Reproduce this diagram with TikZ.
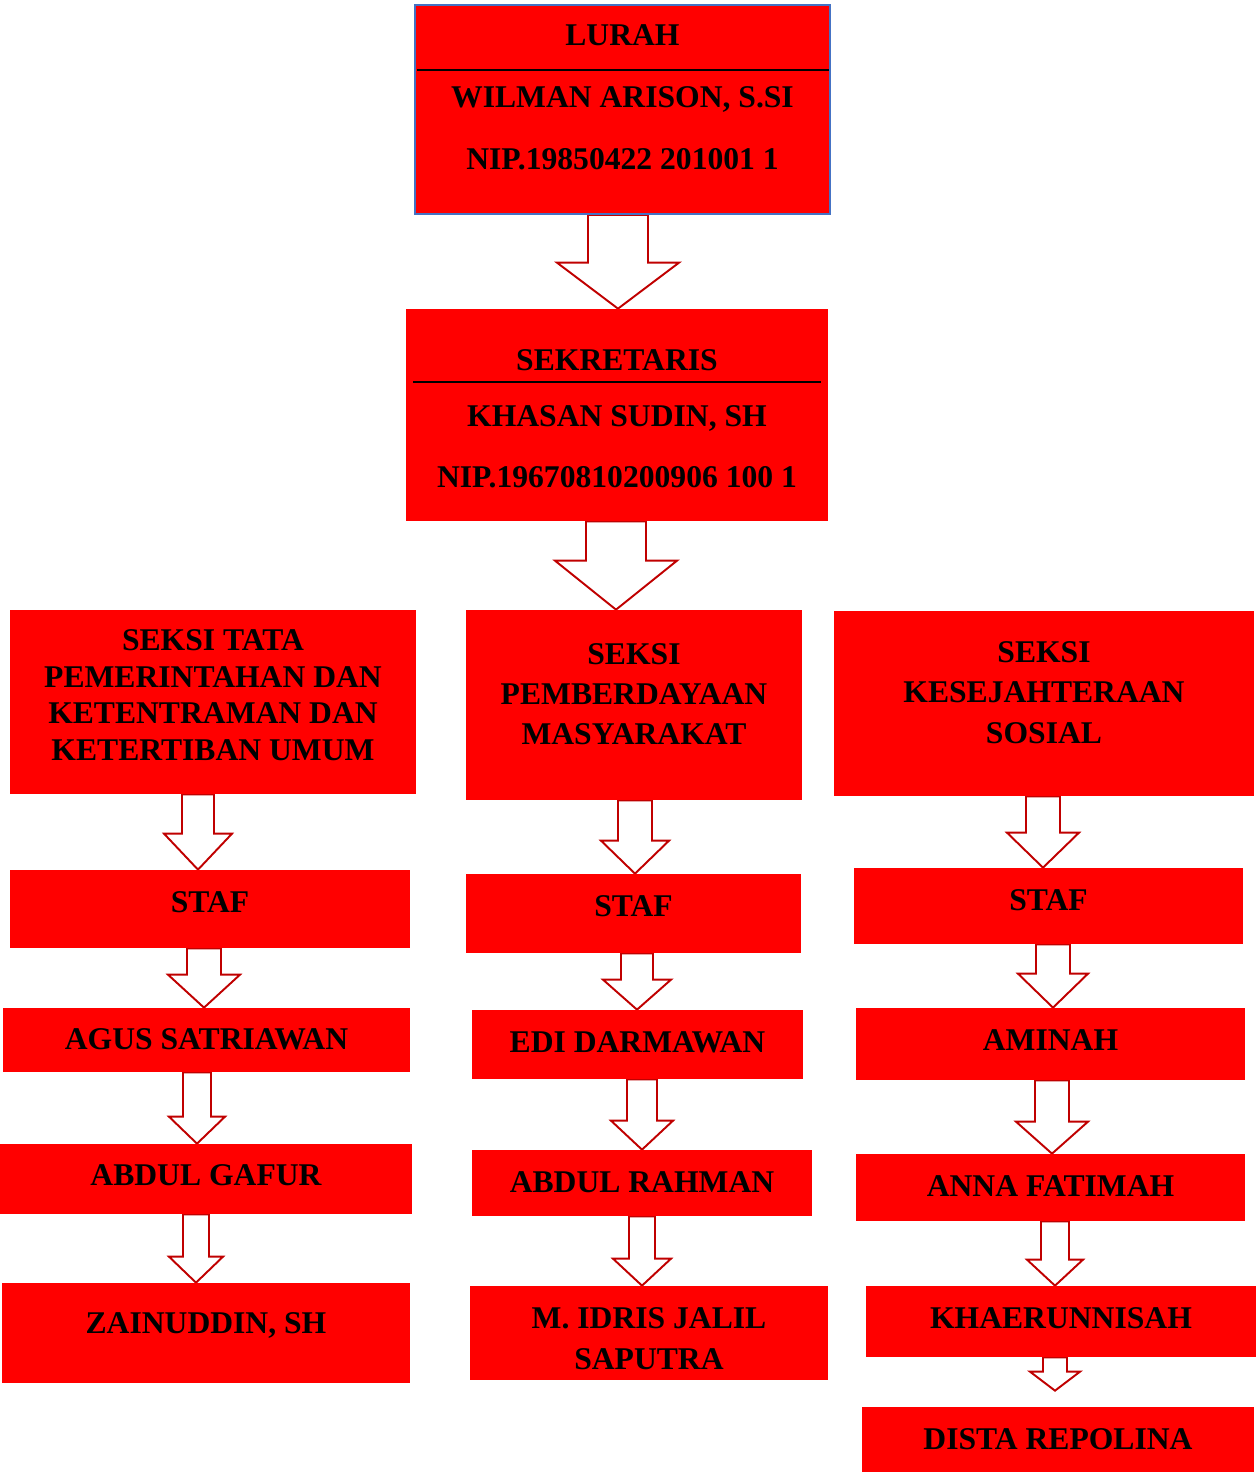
\documentclass[tikz,border=0pt]{standalone}
\usepackage{fontspec}
\setmainfont{Liberation Serif}
\usetikzlibrary{calc, fit, backgrounds}
\definecolor{boxred}{RGB}{255,0,0}
\definecolor{arrowred}{RGB}{192,0,0}
\definecolor{borderblue}{RGB}{68,114,196}

% hollow block arrow: [gap]{from}{to}{x}{shaft half width}{head half width}{head length}
\newcommand{\blockarr}[7][0]{%
    \coordinate (arr-top) at (#4,0 |- #2.south);
    \coordinate (arr-tip) at ($(#4,0 |- #3.north)+(0,-#1)$);
    \draw[blockarrow] ($(arr-top)+(-#5,0)$) -- ($(arr-tip)+(-#5,-#7)$) -- ($(arr-tip)+(-#6,-#7)$) -- (arr-tip)
        -- ($(arr-tip)+(#6,-#7)$) -- ($(arr-tip)+(#5,-#7)$) -- ($(arr-top)+(#5,0)$) -- cycle;
}

\begin{document}
\begin{tikzpicture}[x=0.02cm, y=-0.02cm]
    % Styles for the boxes, their texts and the hollow arrows
    \tikzstyle{box} = [fill=boxred, inner sep=0pt]
    \tikzstyle{lbl} = [font=\bfseries\fontsize{18}{23}\selectfont, align=center, inner sep=0pt, text depth=0pt]
    \tikzstyle{blockarrow} = [draw=arrowred, fill=white, line width=1.1pt, line join=miter]
    \tikzstyle{sepline} = [draw=black, line width=0.7pt]

    \useasboundingbox (0,0) rectangle (1256,1472);

    % Lurah
    \node[box, draw=borderblue, line width=1.1pt, fit={(415,5) (830,214)}] (lurah) {};
    \draw[sepline] (417,70) -- (829,70);
    \node[lbl] (lurah-t1) at (lurah.center |- 0,35) {LURAH};
    \node[lbl] (lurah-t2) at (lurah.center |- 0,97) {WILMAN ARISON, S.SI};
    \node[lbl] (lurah-t3) at (lurah.center |- 0,159) {NIP.19850422 201001 1};

    % Sekretaris
    \node[box, fit={(406,309) (828,521)}] (sekre) {};
    \draw[sepline] (413,382) -- (821,382);
    \node[lbl] (sekre-t1) at (sekre.center |- 0,360) {SEKRETARIS};
    \node[lbl] (sekre-t2) at (sekre.center |- 0,416) {KHASAN SUDIN, SH};
    \node[lbl] (sekre-t3) at (sekre.center |- 0,477) {NIP.19670810200906 100 1};

    % Seksi
    \node[box, fit={(10,610) (416,794)}] (seksiA) {};
    \node[lbl, font=\bfseries\fontsize{18}{20.8}\selectfont] (seksiA-t) at (seksiA.center |- 0,695)
        {SEKSI TATA\\PEMERINTAHAN DAN\\KETENTRAMAN DAN\\KETERTIBAN UMUM};
    \node[box, fit={(466,610) (802,800)}] (seksiB) {};
    \node[lbl, font=\bfseries\fontsize{18}{22.8}\selectfont] (seksiB-t) at (seksiB.center |- 0,694)
        {SEKSI\\PEMBERDAYAAN\\MASYARAKAT};
    \node[box, fit={(834,611) (1254,796)}] (seksiC) {};
    \node[lbl] (seksiC-t) at (seksiC.center |- 0,692.5) {SEKSI\\KESEJAHTERAAN\\SOSIAL};

    % Left column
    \node[box, fit={(10,870) (410,948)}] (stafA) {};
    \node[lbl] (stafA-t) at (stafA.center |- 0,902) {STAF};
    \node[box, fit={(3,1008) (410,1072)}] (agus) {};
    \node[lbl] (agus-t) at (agus.center |- 0,1039) {AGUS SATRIAWAN};
    \node[box, fit={(0,1144) (412,1214)}] (gafur) {};
    \node[lbl] (gafur-t) at (gafur.center |- 0,1175) {ABDUL GAFUR};
    \node[box, fit={(2,1283) (410,1383)}] (zain) {};
    \node[lbl] (zain-t) at (zain.center |- 0,1323) {ZAINUDDIN, SH};

    % Middle column
    \node[box, fit={(466,874) (801,953)}] (stafB) {};
    \node[lbl] (stafB-t) at (stafB.center |- 0,906) {STAF};
    \node[box, fit={(472,1010) (803,1079)}] (edi) {};
    \node[lbl] (edi-t) at (edi.center |- 0,1042) {EDI DARMAWAN};
    \node[box, fit={(472,1150) (812,1216)}] (rahman) {};
    \node[lbl] (rahman-t) at (rahman.center |- 0,1182) {ABDUL RAHMAN};
    \node[box, fit={(470,1286) (828,1380)}] (idris) {};
    \node[lbl] (idris-t) at (idris.center |- 0,1338.5) {M. IDRIS JALIL\\SAPUTRA};

    % Right column
    \node[box, fit={(854,868) (1243,944)}] (stafC) {};
    \node[lbl] (stafC-t) at (stafC.center |- 0,900) {STAF};
    \node[box, fit={(856,1008) (1245,1080)}] (aminah) {};
    \node[lbl] (aminah-t) at (aminah.center |- 0,1040) {AMINAH};
    \node[box, fit={(856,1154) (1245,1221)}] (anna) {};
    \node[lbl] (anna-t) at (anna.center |- 0,1186) {ANNA FATIMAH};
    \node[box, fit={(866,1286) (1256,1357)}] (khaer) {};
    \node[lbl] (khaer-t) at (khaer.center |- 0,1318) {KHAERUNNISAH};
    \node[box, fit={(862,1407) (1254,1472)}] (dista) {};
    \node[lbl] (dista-t) at (dista.center |- 0,1439) {DISTA REPOLINA};

    % Arrows behind the boxes
    \begin{scope}[on background layer]
        \blockarr{lurah}{sekre}{618}{30}{61}{46}
        \blockarr{sekre}{seksiB}{616}{30}{61}{49}
        \blockarr{seksiA}{stafA}{198}{16}{34}{36}
        \blockarr{stafA}{agus}{204}{17}{36}{33}
        \blockarr{agus}{gafur}{197}{14}{28}{27}
        \blockarr{gafur}{zain}{196}{13}{27}{26}
        \blockarr{seksiB}{stafB}{635}{17}{34}{33}
        \blockarr{stafB}{edi}{637}{16}{34}{30}
        \blockarr{edi}{rahman}{642}{15}{31}{29}
        \blockarr{rahman}{idris}{642}{13}{29}{27}
        \blockarr{seksiC}{stafC}{1043}{17}{36}{35}
        \blockarr{stafC}{aminah}{1053}{17}{35}{34}
        \blockarr{aminah}{anna}{1052}{17}{36}{32}
        \blockarr{anna}{khaer}{1055}{14}{28}{26}
        \blockarr[16]{khaer}{dista}{1055}{12}{25}{19}
    \end{scope}
\end{tikzpicture}
\end{document}
